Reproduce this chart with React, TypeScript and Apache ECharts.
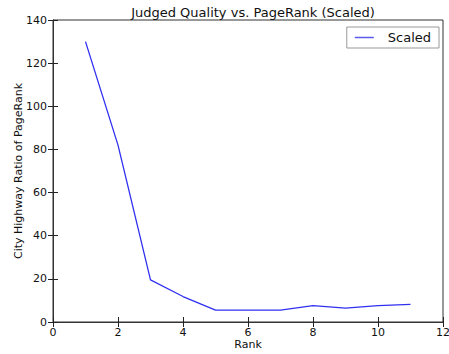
import React, { useEffect, useRef } from "react";
import * as echarts from "echarts";

const ranks = [1, 2, 3, 4, 5, 6, 7, 8, 9, 10, 11];
const scaled = [130, 82, 19.5, 11.8, 5.5, 5.5, 5.5, 7.6, 6.4, 7.6, 8.2];
const seriesName = "Scaled";
const titleText = "Judged Quality vs. PageRank (Scaled)";
const xLabel = "Rank";
const yLabel = "City Highway Ratio of PageRank";

const FONT = "DejaVu Sans";

export default function App() {
  const ref = useRef<HTMLDivElement>(null);
  useEffect(() => {
    if (!ref.current) return;
    const chart = echarts.init(ref.current, undefined, { renderer: "svg" });
    const tickStyle = { inside: true, length: 5, lineStyle: { color: "#222", width: 1 } };
    chart.setOption({
      animation: false,
      backgroundColor: "#ffffff",
      title: {
        text: titleText,
        left: 248,
        textAlign: "center",
        top: 1,
        textStyle: { fontFamily: FONT, fontSize: 13, fontWeight: "normal", color: "#111" },
      },
      grid: {
        left: 53,
        right: 6,
        top: 20,
        bottom: 32,
        containLabel: false,
        outerBoundsMode: "none",
        show: true,
        borderColor: "#333",
        borderWidth: 1,
        backgroundColor: "transparent",
      },
      legend: {
        data: [{ name: seriesName, icon: "rect" }],
        right: 10,
        top: 27,
        orient: "vertical",
        itemWidth: 19,
        itemHeight: 1.5,
        itemGap: 0,
        padding: [4, 8, 4, 8],
        borderColor: "#999",
        borderWidth: 1,
        borderRadius: 0,
        itemStyle: { color: "#5a5af0" },
        textStyle: { fontFamily: FONT, fontSize: 13, color: "#111", padding: [0, 0, 0, 9] },
      },
      xAxis: [
        {
          type: "value",
          min: 0,
          max: 12,
          interval: 2,
          name: xLabel,
          nameLocation: "middle",
          nameGap: 17,
          nameMoveOverlap: false,
          nameTextStyle: { fontFamily: FONT, fontSize: 11, color: "#111" },
          axisLine: { show: true, lineStyle: { color: "#333" } },
          axisTick: tickStyle,
          axisLabel: { fontFamily: FONT, fontSize: 11, color: "#111", margin: 5 },
          splitLine: { show: false },
        },
        {
          type: "value",
          position: "top",
          min: 0,
          max: 12,
          interval: 2,
          axisLine: { show: true, lineStyle: { color: "#333" } },
          axisTick: tickStyle,
          axisLabel: { show: false },
          splitLine: { show: false },
        },
      ],
      yAxis: [
        {
          type: "value",
          min: 0,
          max: 140,
          interval: 20,
          name: yLabel,
          nameLocation: "middle",
          nameGap: 29,
          nameMoveOverlap: false,
          nameTextStyle: { fontFamily: FONT, fontSize: 11, color: "#111" },
          axisLine: { show: true, lineStyle: { color: "#333" } },
          axisTick: tickStyle,
          axisLabel: { fontFamily: FONT, fontSize: 11, color: "#111", margin: 6 },
          splitLine: { show: false },
        },
        {
          type: "value",
          position: "right",
          min: 0,
          max: 140,
          interval: 20,
          axisLine: { show: true, lineStyle: { color: "#333" } },
          axisTick: tickStyle,
          axisLabel: { show: false },
          splitLine: { show: false },
        },
      ],
      series: [
        {
          name: seriesName,
          type: "line",
          data: ranks.map((r, i) => [r, scaled[i]]),
          symbol: "none",
          showSymbol: false,
          lineStyle: { color: "#3030f0", width: 1.3 },
          itemStyle: { color: "#3030f0" },
        },
      ],
    });
    return () => chart.dispose();
  }, []);
  return (
    <div
      ref={ref}
      style={{ position: "fixed", left: 0, top: 0, width: 449, height: 354 }}
    />
  );
}
